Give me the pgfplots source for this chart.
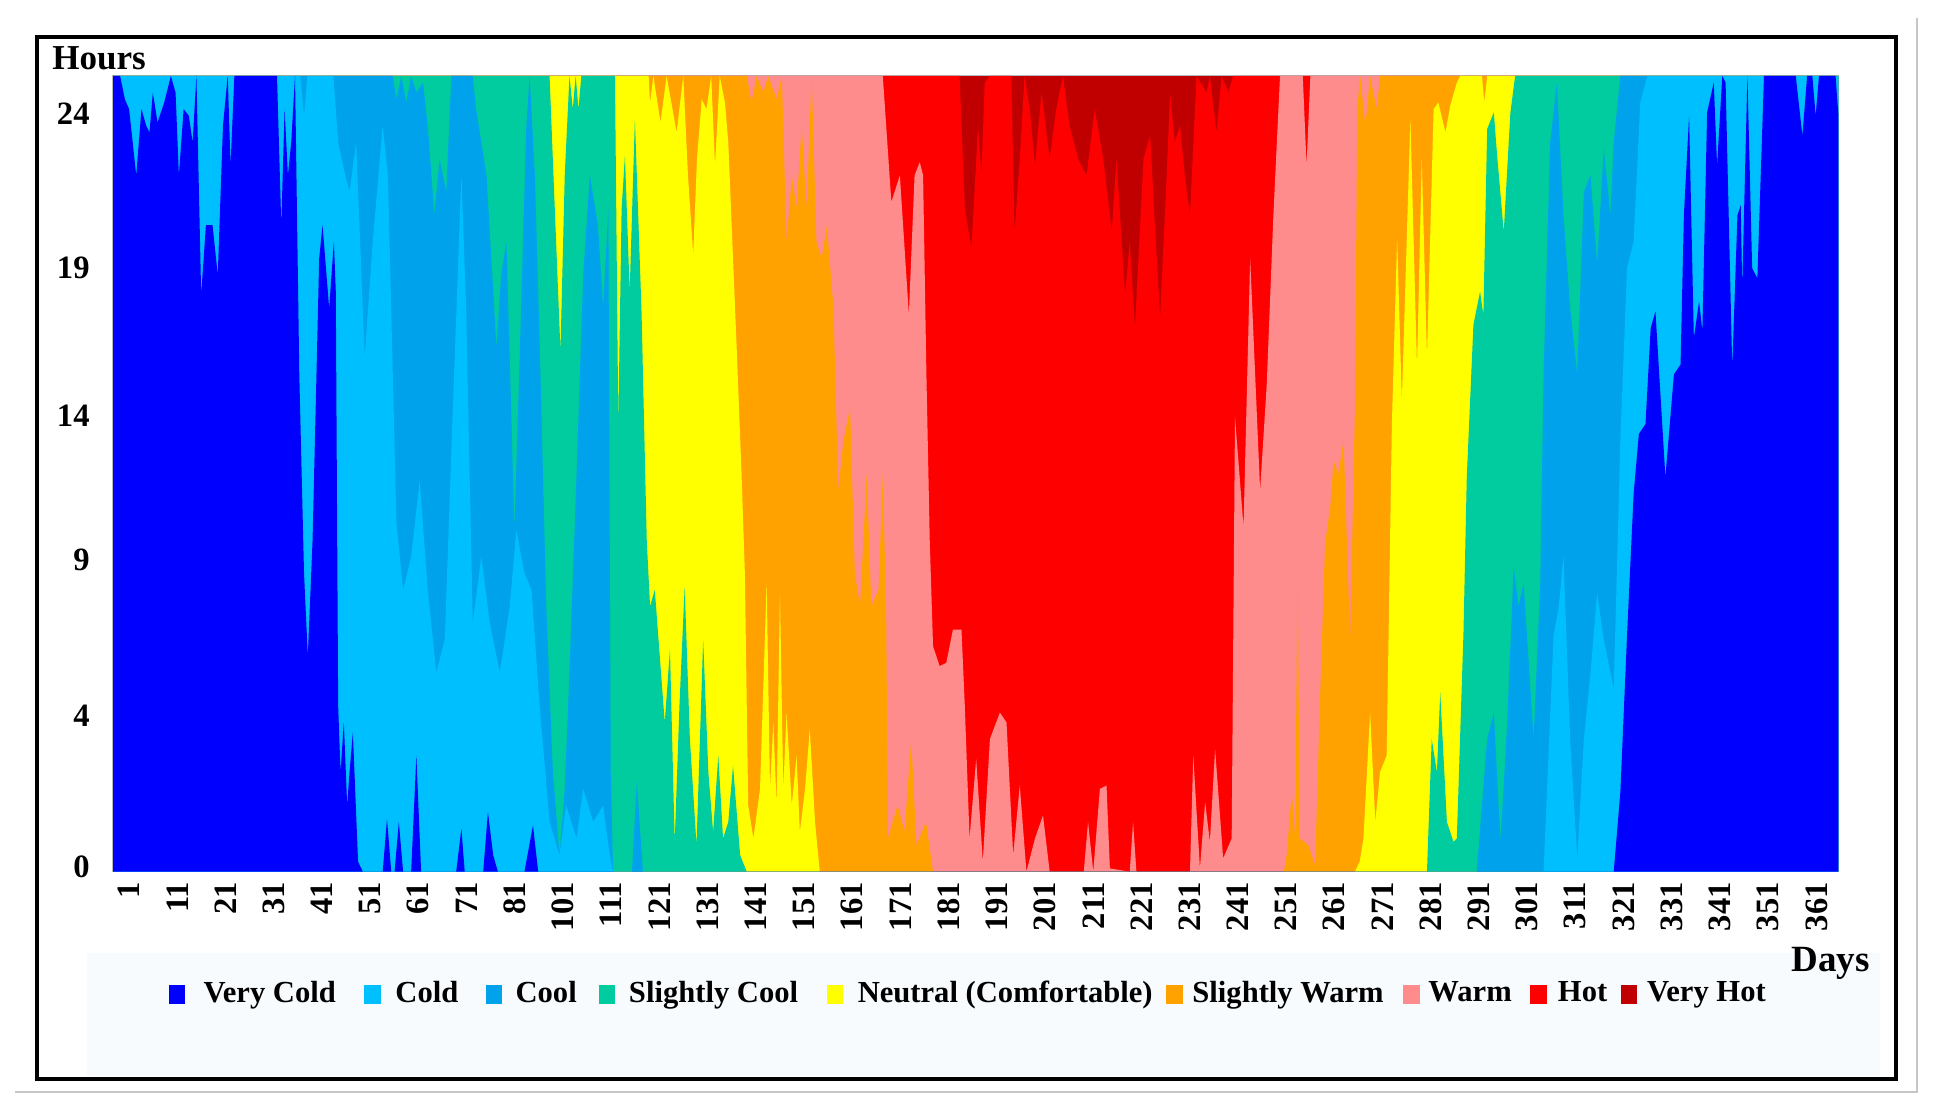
\documentclass[border=0pt]{standalone}
\usepackage{pgfplots}
\pgfplotsset{compat=1.18}
\usepackage{fontspec}
\setmainfont{Liberation Serif}

\definecolor{vcold}{RGB}{0,0,255}
\definecolor{cold}{RGB}{0,191,255}
\definecolor{cool}{RGB}{0,162,236}
\definecolor{scool}{RGB}{0,204,160}
\definecolor{neutral}{RGB}{255,255,0}
\definecolor{swarm}{RGB}{255,162,0}
\definecolor{warm}{RGB}{255,140,140}
\definecolor{hot}{RGB}{255,0,0}
\definecolor{vhot}{RGB}{192,0,0}
\definecolor{legendbg}{RGB}{248,251,253}

\begin{document}
\begin{tikzpicture}
\path[use as bounding box, fill=white] (0,0) rectangle (969pt,557pt);
\fill[legendbg] (43.5pt,19pt) rectangle (940pt,80.5pt);
\draw[gray!45, line width=1pt] (7.5pt,11pt) -- (958.5pt,11pt) -- (958.5pt,548pt);
\draw[line width=2pt] (18.5pt,17.5pt) rectangle (948pt,538.5pt);

\begin{axis}[
  at={(56.5pt,121.15pt)}, anchor=south west,
  scale only axis, width=862.7pt, height=397.85pt,
  xmin=1, xmax=365, ymin=0, ymax=24,
  axis line style={gray!55, line width=0.6pt},
  major tick length=0pt,
  xtick={4.4,14.57,24.74,34.91,45.08,55.25,65.42,75.59,85.76,95.93,106.1,116.27,126.44,136.61,146.78,156.95,167.12,177.29,187.46,197.63,207.8,217.97,228.14,238.31,248.48,258.65,268.82,278.99,289.16,299.33,309.5,319.67,329.84,340.01,350.18,360.35},
  xticklabels={1,11,21,31,41,51,61,71,81,101,111,121,131,141,151,161,171,181,191,201,211,221,231,241,251,261,271,281,291,301,311,321,331,341,351,361},
  ytick={0.15,4.7,9.4,13.75,18.2,22.85},
  yticklabels={0,4,9,14,19,24},
  xticklabel style={rotate=90, anchor=east, inner sep=0pt, font=\bfseries\fontsize{16.3}{18}\selectfont},
  yticklabel style={anchor=east, inner sep=0pt, font=\bfseries\fontsize{16.3}{18}\selectfont},
  xticklabel shift=5pt, yticklabel shift=11.5pt,
  legend image code/.code={\fill[#1, draw=none] (0pt,-5.3pt) rectangle (8.2pt,4.2pt);},
  legend columns=-1,
  legend style={at={(0.0322,-0.1526)}, anchor=west, draw=none, fill=none,
    inner sep=0pt, outer sep=0pt,
    font=\bfseries\fontsize{15.3}{17}\selectfont,
    nodes={inner xsep=0pt, inner ysep=1pt},
    /tikz/column 1/.style={column sep=9.3pt},
    /tikz/column 2/.style={column sep=14.2pt},
    /tikz/column 3/.style={column sep=7.4pt},
    /tikz/column 4/.style={column sep=13.6pt},
    /tikz/column 5/.style={column sep=6.8pt},
    /tikz/column 6/.style={column sep=11.1pt},
    /tikz/column 7/.style={column sep=6.8pt},
    /tikz/column 8/.style={column sep=14.2pt},
    /tikz/column 9/.style={column sep=7.4pt},
    /tikz/column 10/.style={column sep=6.8pt},
    /tikz/column 11/.style={column sep=4.9pt},
    /tikz/column 12/.style={column sep=9.9pt},
    /tikz/column 13/.style={column sep=4.3pt},
    /tikz/column 14/.style={column sep=9.3pt},
    /tikz/column 15/.style={column sep=5.6pt},
    /tikz/column 16/.style={column sep=6.8pt},
    /tikz/column 17/.style={column sep=4.9pt}},
]
\addlegendimage{fill=vcold}\addlegendentry{Very Cold}
\addlegendimage{fill=cold}\addlegendentry{Cold}
\addlegendimage{fill=cool}\addlegendentry{Cool}
\addlegendimage{fill=scool}\addlegendentry{Slightly Cool}
\addlegendimage{fill=neutral}\addlegendentry{Neutral (Comfortable)}
\addlegendimage{fill=swarm}\addlegendentry{Slightly Warm}
\addlegendimage{fill=warm}\addlegendentry{Warm}
\addlegendimage{fill=hot}\addlegendentry{Hot}
\addlegendimage{fill=vhot}\addlegendentry{Very Hot}

% Cumulative hours per day: each curve is the upper edge of one class,
% filled from the top class down so that the lower classes lie on top.
% Very Hot: the whole day
\addplot[forget plot, fill=vhot, draw=none] coordinates {(1,24) (365,24)} \closedcycle;
% Hot: upper edge
\addplot[forget plot, fill=hot, draw=none] coordinates {
(1,24) (179.6,24) (180.7,20) (182.1,18.8) (183.5,22.5) (184.2,21) (184.9,23.8) (186,24) (190.5,24) (191.2,19.3) (192.3,21.5) (193.3,24) (194.4,23) (195.5,21.3) (196.9,23.5) (198.6,21.5) (200,23) (201.4,24) (202.8,22.5) (204.6,21.5) (206.4,21) (208.1,23) (209.9,21.5) (211.7,19.3) (212.7,21.5) (214.5,17.4) (215.5,19) (216.6,16.4) (218.4,21.5) (219.8,22.2) (220.8,19.5) (221.9,16.7) (223.3,21) (224,23.5) (225,22) (226.1,22.5) (227.1,21) (228.2,19.8) (229.6,24) (231.7,23.5) (232.4,24) (233.8,22.3) (234.9,24) (236.3,23.5) (237.3,24) (365,24)
} \closedcycle;
% Warm: upper edge
\addplot[forget plot, fill=warm, draw=none] coordinates {
(1,24) (163.4,24) (165.2,20.2) (167,21) (168.9,16.8) (170.1,21) (171.2,21.4) (171.9,21) (172.6,15) (173.3,10) (174,6.8) (175.4,6.2) (176.8,6.3) (178.2,7.3) (180,7.3) (180.7,5) (181.7,1) (183.1,3.4) (184.5,0.3) (186,4) (188.1,4.8) (189.5,4.5) (190.9,0.5) (192.3,2.6) (193.7,0) (195.5,1) (197.2,1.7) (198.6,0) (205.8,0) (206.7,1.5) (207.8,0) (209.2,2.5) (210.6,2.6) (211.3,0.1) (215.5,0) (216.2,1.5) (216.9,0) (228.2,0) (228.9,3.5) (230.3,0.1) (231.4,2.1) (232.4,0.9) (233.5,3.7) (235.2,0.4) (237,1) (237.7,13.7) (239.5,10.4) (240.9,18.5) (243,11.5) (244.4,14.7) (245.8,19.8) (247.2,24) (252,24) (252.8,21.3) (253.6,24) (365,24)
} \closedcycle;
% Slightly Warm: upper edge
\addplot[forget plot, fill=swarm, draw=none] coordinates {
(1,24) (134.7,24) (135.7,23.2) (136.8,24) (138.2,23.5) (139.2,24) (141,23.3) (142.1,24) (143.1,19) (144.2,21) (145.2,20) (146.3,22.5) (147.3,20) (148.4,24) (149.4,19) (150.5,18.5) (151.6,19.5) (153,17) (154,11.5) (155.1,13) (156.5,14) (157.5,9) (158.6,8) (160,12) (161,8) (162.5,8.5) (163.4,12) (164.1,8) (164.5,1) (165.5,1.5) (166.5,2) (168,1.2) (169.4,4) (170.5,0.8) (172.5,1.5) (174,0) (248,0) (248.6,0.5) (249.7,2.4) (250.4,1) (250.9,9.4) (251.4,1) (253.2,0.8) (254.6,0.2) (255.6,5) (256.7,9.9) (257.8,11) (258.5,12.4) (259.5,12) (260.6,13) (262,7) (263,14) (263.5,23) (264.1,24) (265.2,22.5) (266.2,24) (267.6,23) (268.3,24) (365,24)
} \closedcycle;
% Neutral: upper edge
\addplot[forget plot, fill=neutral, draw=none] coordinates {
(1,24) (114,24) (114.3,23.2) (115,24) (116.5,22.6) (117.8,24) (119.9,22.3) (121.3,24) (122.3,21) (123.4,18.6) (124.2,21.5) (125.2,23.3) (126.2,23) (127.2,24) (128,21.3) (129,24) (130.1,23.2) (130.8,22) (132.6,15.7) (133.6,12) (134.3,9) (135,2) (136.1,1) (137.5,2.5) (138.9,8.7) (139.6,2.5) (140.3,4.5) (141,2) (141.7,8.4) (142.4,2.5) (143.1,4.8) (144.2,2) (145.2,3.5) (145.9,1.2) (147,2.5) (148,4.3) (149.1,1.5) (150.1,0) (263,0) (264,0.3) (264.8,1) (266.2,4.8) (267.3,1.5) (268.3,3) (269.7,3.5) (270.8,13.5) (271.9,19.1) (272.9,14.2) (274.7,22.7) (276.1,15.2) (277.1,21.5) (278.2,15.5) (279.6,23) (280.6,23.2) (282.1,22.3) (283.1,23.1) (284.5,23.8) (285.2,24) (289.8,24) (290.3,23.2) (290.9,24) (365,24)
} \closedcycle;
% Slightly Cool: upper edge
\addplot[forget plot, fill=scool, draw=none] coordinates {
(1,24) (93.1,24) (94.2,20) (95.4,15.7) (96.3,21) (97.3,24) (98,23) (98.6,24) (99.2,23) (99.8,24) (106.9,24) (107.6,13.5) (108.3,20) (109,21.6) (110,17.5) (111.1,22.7) (112.5,16.9) (113.6,10) (114.3,8) (115.3,8.5) (116.4,6.4) (117.4,4.5) (118.5,6.7) (119.5,0.9) (120.5,5) (121.6,8.6) (122.7,4) (124.1,0.8) (125.5,7) (126.6,3) (127.6,1.2) (128.7,3.5) (129.7,1) (130.8,1.5) (131.8,3.2) (133.3,0.5) (134.7,0) (278.2,0) (279.2,4) (280.3,3) (281,5.4) (282.4,1.5) (283.8,0.9) (284.5,1) (285.9,7.2) (286.6,11.9) (288,16.5) (289.4,17.5) (290.1,16.8) (290.9,22.4) (292.3,22.9) (293,21.6) (294.4,19.3) (295.8,22.9) (296.8,24) (365,24)
} \closedcycle;
% Cool: upper edge
\addplot[forget plot, fill=cool, draw=none] coordinates {
(1,24) (60,24) (60.8,23.3) (61.8,24) (62.9,23.2) (63.9,24) (65,23.5) (66.4,23.8) (67.4,22.5) (68.8,19.8) (69.9,21.5) (71.3,20.5) (72.4,24) (76.9,24) (77.6,23) (78.7,22) (79.8,21) (81.9,15.8) (82.9,18) (84,19) (85.7,10.3) (87.1,17) (88.2,22.5) (88.9,24) (90,21) (91,16) (92.4,8) (93.8,3) (95.2,0.5) (96.3,2.5) (97.3,6) (98.8,12) (100.2,18) (101.6,21) (103.3,19.5) (104.4,17) (105.5,20) (106,3) (106.5,0) (110.5,0) (111.5,2.7) (112.8,0) (288.7,0) (290.9,4) (292.3,4.8) (293.7,0.9) (295.1,4.4) (296.5,9.2) (297.5,8) (298.6,8.7) (300.7,4) (302.1,8.7) (302.8,15) (304.2,22) (305.6,23.8) (307,19.8) (308.4,17) (309.9,15) (311.3,20.5) (312.7,21) (314.1,18.3) (315.5,21.8) (316.9,19.8) (317.6,22) (319,24) (365,24)
} \closedcycle;
% Cold: upper edge
\addplot[forget plot, fill=cold, draw=none] coordinates {
(1,24) (40.5,24) (41.3,22.8) (42,24) (47.5,24) (48.5,22) (50,21) (50.9,20.5) (52.3,22) (54.1,15.5) (55.8,19) (57.9,22.5) (59,21) (60.8,10.5) (62.2,8.5) (63.9,9.5) (65.7,11.8) (67.4,8.5) (69.2,6) (71,7) (72.7,14) (74.5,21) (75.5,17) (76.9,7.5) (78.7,9.5) (80.5,7.5) (82.6,6) (84.7,8) (86.1,10.3) (87.8,9) (89.3,8.5) (91,5) (93.1,1.5) (95.2,0.5) (96.6,2) (98.8,1) (100.2,2.5) (102.3,1.5) (104.4,2) (105.8,0.5) (106.5,0) (302.8,0) (304.9,7.1) (306,8) (307,9.5) (308.4,4) (309.9,0.4) (311.3,4) (312.7,6) (314.1,8.4) (315.5,7) (316.9,6) (317.6,5.5) (319,13) (320.4,18.2) (321.8,19) (323.2,23.2) (324.7,24) (365,24)
} \closedcycle;
% Very Cold: upper edge
\addplot[forget plot, fill=vcold, draw=none] coordinates {
(1,24) (2.5,24) (3.5,23.3) (4.4,23) (5.9,21) (7,23) (8,22.5) (8.7,22.3) (9.4,23.5) (10.4,22.6) (11.8,23.2) (13.2,24) (14.2,23.5) (14.9,21) (15.9,23) (17,22.8) (17.8,22) (18.6,24) (19.6,17.4) (20.6,19.5) (22,19.5) (23.1,18) (24.2,22.5) (25.2,24) (25.8,21.3) (26.6,24) (35.6,24) (36.5,19.5) (37.2,23) (37.9,21) (38.6,22) (39.4,24) (40.3,15) (41.3,9) (42.1,6.5) (43.1,10) (44.5,18.5) (45.2,19.5) (46.6,17) (47.6,19) (48,17.5) (48.5,5) (49,3) (49.7,4.5) (50.4,2) (50.9,3) (51.6,4.2) (52.7,0.3) (53.7,0) (57.9,0) (58.8,1.6) (59.7,0) (60.4,0) (61.3,1.5) (62.2,0) (63.9,0) (65,3.5) (66,0) (73.4,0) (74.5,1.3) (75.2,0) (79.1,0) (80.1,1.8) (81.2,0.5) (82.2,0) (87.8,0) (89.6,1.4) (90.7,0) (317.6,0) (319,2.4) (320.4,7.1) (321.8,11.4) (322.9,13.2) (324.3,13.5) (325.4,16.4) (326.4,16.9) (328.5,11.9) (330.3,15) (331.7,15.3) (332.4,19.8) (333.5,22.8) (334.5,16.1) (335.6,17.2) (336.3,16.3) (337.3,22.9) (338.7,23.8) (339.4,21.3) (340.5,24) (341.2,23.8) (342.6,15.2) (343.7,19.8) (344.4,20.1) (344.7,17.6) (345.8,24) (346.8,18.2) (347.9,17.9) (349.3,24) (356,24) (357.4,22.2) (358.4,24) (359.5,24) (360.2,22.8) (360.9,24) (364.4,24) (365,22.8)
} \closedcycle;
\end{axis}

\node[anchor=base west, inner sep=0pt, font=\bfseries\fontsize{17.5}{20}\selectfont] at (26pt,522pt) {Hours};
\node[anchor=base west, inner sep=0pt, font=\bfseries\fontsize{18.5}{20}\selectfont] at (895.5pt,71pt) {Days};
\end{tikzpicture}
\end{document}
